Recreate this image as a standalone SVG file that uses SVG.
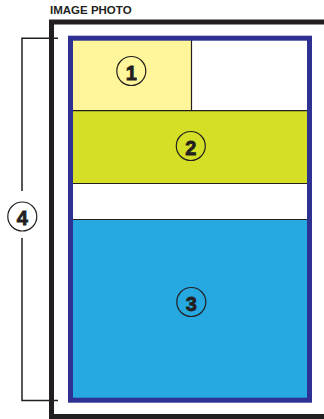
<svg xmlns="http://www.w3.org/2000/svg" width="324" height="419" viewBox="0 0 324 419">
<style>
.lbl{font-family:"Liberation Sans",Arial,sans-serif;font-weight:bold;fill:#231f20}
.num{font-family:"Liberation Sans",Arial,sans-serif;font-weight:bold;font-size:20px;fill:#231f20;stroke:#231f20;stroke-width:0.8;text-anchor:middle}
.circ{fill:none;stroke:#231f20;stroke-width:1.2}
.div{stroke:#231f20;stroke-width:1.2;fill:none}
</style>
<rect width="324" height="419" fill="#ffffff"/>
<text class="lbl" x="50" y="13.7" font-size="11.5">IMAGE PHOTO</text>
<g id="photo-frame">
<rect x="51.5" y="22" width="290" height="394.5" fill="none" stroke="#231f20" stroke-width="5"/>
</g>
<g id="cell1">
<rect x="72" y="40" width="119.5" height="71" fill="#fff59a"/>
<circle class="circ" cx="131.3" cy="71" r="14.5"/>
<text class="num" x="131.3" y="79.6">1</text>
</g>
<g id="cell-empty">
<rect x="191.5" y="40" width="116" height="71" fill="#ffffff"/>
</g>
<g id="cell2">
<rect x="72" y="111" width="236" height="72.5" fill="#d4df26"/>
<circle class="circ" cx="190.8" cy="146" r="14.5"/>
<text class="num" x="190.8" y="154.5">2</text>
</g>
<g id="cell-white">
<rect x="72" y="183.5" width="236" height="36" fill="#ffffff"/>
</g>
<g id="cell3">
<rect x="72" y="219.5" width="236" height="179" fill="#25a9e0"/>
<circle class="circ" cx="191.3" cy="302" r="14.5"/>
<text class="num" x="191.3" y="310.5">3</text>
</g>
<g id="dividers">
<line class="div" x1="72" y1="110.7" x2="308" y2="110.7"/>
<line class="div" x1="72" y1="183.5" x2="308" y2="183.5"/>
<line class="div" x1="72" y1="219.5" x2="308" y2="219.5"/>
<line class="div" x1="191.5" y1="40" x2="191.5" y2="110.7"/>
</g>
<g id="blue-frame">
<rect x="70.5" y="38.2" width="239" height="362" fill="none" stroke="#2e3192" stroke-width="5"/>
</g>
<g id="connectors">
<polyline points="58,38.3 22,38.3 22,191" fill="none" stroke="#231f20" stroke-width="1.5"/>
<polyline points="22,238 22,400.5 58,400.5" fill="none" stroke="#231f20" stroke-width="1.5"/>
</g>
<g id="label4">
<circle class="circ" cx="22.3" cy="216.5" r="14.5"/>
<text class="num" x="22.3" y="225">4</text>
</g>
</svg>
